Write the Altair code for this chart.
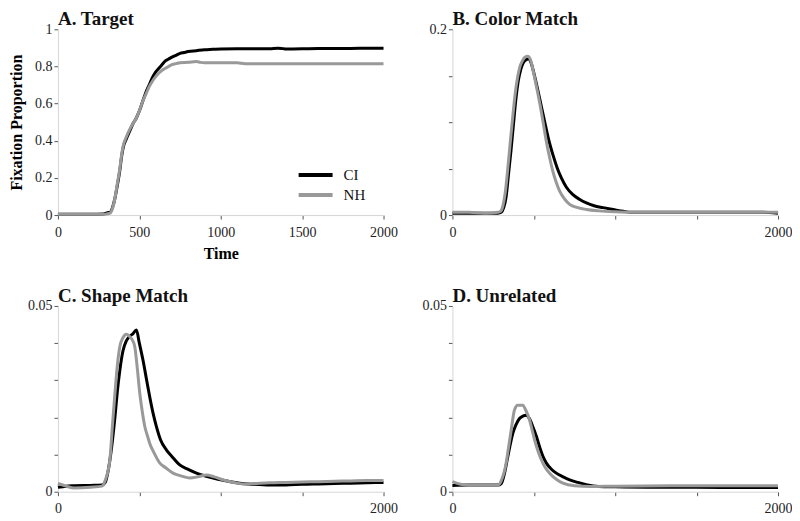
import altair as alt
import pandas as pd

# ---------------- data ----------------
groups = ["CI", "NH"]
x_ticks = [0, 500, 1000, 1500, 2000]

# A. Target
a_ci_t = [0, 100, 200, 280, 300, 320, 335, 350, 365, 380, 392, 400, 420, 440, 460, 480, 500, 520, 540, 560, 580, 600, 620, 640, 660, 680, 700, 725, 750, 775, 800, 850, 900, 950, 1000, 1100, 1200, 1300, 1350, 1380, 1400, 1500, 1600, 1700, 1800, 1900, 2000]
a_ci_v = [0.005, 0.005, 0.005, 0.006, 0.012, 0.015, 0.04, 0.09, 0.16, 0.24, 0.32, 0.36, 0.41, 0.45, 0.49, 0.52, 0.56, 0.61, 0.66, 0.70, 0.74, 0.77, 0.79, 0.81, 0.83, 0.84, 0.85, 0.86, 0.87, 0.875, 0.88, 0.885, 0.89, 0.892, 0.894, 0.895, 0.895, 0.895, 0.898, 0.896, 0.894, 0.895, 0.897, 0.897, 0.897, 0.898, 0.898]
a_nh_t = [0, 100, 200, 280, 300, 320, 335, 350, 365, 380, 392, 400, 420, 440, 460, 480, 500, 520, 540, 560, 580, 600, 620, 640, 660, 680, 700, 725, 750, 800, 850, 875, 900, 1000, 1100, 1150, 1200, 1300, 1400, 1500, 1600, 1700, 1800, 1900, 2000]
a_nh_v = [0.005, 0.005, 0.005, 0.005, 0.006, 0.01, 0.035, 0.09, 0.17, 0.25, 0.33, 0.37, 0.42, 0.46, 0.49, 0.52, 0.56, 0.61, 0.65, 0.69, 0.72, 0.745, 0.765, 0.78, 0.79, 0.80, 0.81, 0.815, 0.82, 0.822, 0.826, 0.822, 0.82, 0.82, 0.82, 0.815, 0.815, 0.815, 0.815, 0.815, 0.815, 0.815, 0.815, 0.815, 0.815]

# B. Color Match
b_ci_t = [0, 100, 200, 280, 300, 315, 330, 345, 360, 375, 390, 405, 420, 435, 450, 468, 485, 500, 520, 545, 566, 590, 617, 643, 669, 700, 740, 780, 823, 870, 925, 987, 1050, 1100, 1300, 1500, 1700, 1900, 2000]
b_ci_v = [0.002, 0.002, 0.002, 0.002, 0.003, 0.008, 0.02, 0.045, 0.07, 0.098, 0.125, 0.145, 0.157, 0.164, 0.167, 0.168, 0.163, 0.153, 0.138, 0.118, 0.101, 0.082, 0.065, 0.051, 0.040, 0.030, 0.022, 0.017, 0.013, 0.010, 0.008, 0.006, 0.004, 0.003, 0.003, 0.003, 0.003, 0.003, 0.002]
b_nh_t = [0, 100, 200, 280, 295, 310, 325, 340, 355, 370, 385, 400, 415, 430, 445, 463, 480, 500, 520, 540, 556, 576, 597, 617, 638, 658, 690, 720, 770, 823, 900, 1000, 1100, 1300, 1500, 1700, 1900, 2000]
b_nh_v = [0.003, 0.003, 0.002, 0.003, 0.004, 0.01, 0.025, 0.05, 0.078, 0.105, 0.13, 0.148, 0.16, 0.166, 0.17, 0.171, 0.167, 0.152, 0.135, 0.117, 0.101, 0.080, 0.062, 0.047, 0.035, 0.026, 0.017, 0.0115, 0.008, 0.006, 0.0045, 0.0035, 0.003, 0.003, 0.003, 0.003, 0.003, 0.003]

# C. Shape Match
c_ci_t = [0, 50, 100, 200, 270, 290, 310, 330, 350, 365, 380, 400, 420, 440, 460, 482, 500, 523, 545, 564, 585, 605, 630, 667, 700, 748, 800, 851, 900, 953, 1000, 1117, 1200, 1300, 1400, 1500, 1600, 1700, 1800, 1900, 2000]
c_ci_v = [0.0012, 0.0015, 0.0016, 0.0017, 0.0018, 0.0025, 0.006, 0.012, 0.020, 0.027, 0.0326, 0.038, 0.0406, 0.0418, 0.0425, 0.0435, 0.040, 0.0353, 0.030, 0.0255, 0.021, 0.0175, 0.014, 0.0112, 0.0095, 0.0072, 0.006, 0.005, 0.0043, 0.0037, 0.0032, 0.0023, 0.002, 0.0018, 0.0018, 0.002, 0.0021, 0.0022, 0.0023, 0.0024, 0.0025]
c_nh_t = [0, 50, 100, 200, 270, 290, 319, 335, 350, 365, 380, 400, 421, 440, 455, 472, 488, 503, 520, 534, 550, 564, 590, 626, 660, 707, 760, 810, 860, 912, 960, 1014, 1080, 1137, 1200, 1300, 1400, 1500, 1600, 1700, 1800, 1900, 2000]
c_nh_v = [0.0022, 0.0015, 0.001, 0.0012, 0.0015, 0.003, 0.0086, 0.018, 0.0264, 0.034, 0.039, 0.0415, 0.0424, 0.0418, 0.041, 0.039, 0.033, 0.0264, 0.021, 0.0175, 0.015, 0.013, 0.0105, 0.0077, 0.0065, 0.005, 0.0042, 0.0037, 0.004, 0.0045, 0.004, 0.0032, 0.0025, 0.0021, 0.0022, 0.0024, 0.0025, 0.0026, 0.0027, 0.0028, 0.0029, 0.003, 0.003]

# D. Unrelated
d_ci_t = [0, 100, 200, 280, 300, 320, 340, 371, 390, 412, 435, 453, 475, 494, 515, 535, 556, 577, 605, 638, 680, 720, 770, 822, 900, 1000, 1200, 1500, 1800, 2000]
d_ci_v = [0.0017, 0.0018, 0.0018, 0.0018, 0.0022, 0.005, 0.0094, 0.0157, 0.018, 0.0197, 0.0204, 0.0206, 0.0195, 0.0175, 0.015, 0.0121, 0.0095, 0.0077, 0.0062, 0.005, 0.004, 0.0032, 0.0025, 0.0019, 0.0014, 0.0013, 0.0012, 0.0012, 0.0011, 0.0011]
d_nh_t = [0, 50, 100, 200, 279, 300, 330, 345, 361, 381, 401, 432, 450, 474, 490, 505, 525, 546, 570, 597, 640, 679, 750, 850, 1000, 1500, 2000]
d_nh_v = [0.0027, 0.002, 0.0018, 0.0018, 0.0018, 0.003, 0.0077, 0.012, 0.0166, 0.022, 0.0233, 0.0233, 0.022, 0.0193, 0.0165, 0.0139, 0.011, 0.0086, 0.0065, 0.005, 0.0033, 0.0023, 0.0016, 0.0014, 0.0015, 0.0016, 0.0016]


def frame(ci_t, ci_v, nh_t, nh_v):
    return pd.concat([
        pd.DataFrame({"Time": ci_t, "Proportion": ci_v, "Group": groups[0]}),
        pd.DataFrame({"Time": nh_t, "Proportion": nh_v, "Group": groups[1]}),
    ], ignore_index=True)


SERIF = "Liberation Serif"
NB = "\u00a0"
W, H = 326, 186
color_scale = alt.Scale(domain=groups, range=["#000000", "#999999"])


def panel(df, title, ymax, yvals, ylab_expr, xlab_expr, first=False):
    x_axis = alt.Axis(values=x_ticks, labelExpr=xlab_expr, labelPadding=6, labelFlush=False)
    if first:
        y_axis = alt.Axis(values=yvals, labelExpr=ylab_expr, labelPadding=2, labelFlush=False,
                          titlePadding=10)
        x = alt.X("Time:Q", scale=alt.Scale(domain=[0, 2000], nice=False), axis=x_axis, title="Time")
        y = alt.Y("Proportion:Q", scale=alt.Scale(domain=[0, ymax], nice=False), axis=y_axis,
                  title="Fixation Proportion")
        color = alt.Color("Group:N", scale=color_scale, sort=groups,
                          legend=alt.Legend(title=None, orient="none", legendX=246, legendY=134,
                                            symbolType="M-1.7,0H1.7", symbolSize=400,
                                            symbolStrokeWidth=4, labelFont=SERIF, labelFontSize=15,
                                            labelColor="#111", labelOffset=16, rowPadding=0,
                                            padding=0))
    else:
        y_axis = alt.Axis(values=yvals, labelExpr=ylab_expr, labelPadding=2, labelFlush=False)
        x = alt.X("Time:Q", scale=alt.Scale(domain=[0, 2000], nice=False), axis=x_axis, title=None)
        y = alt.Y("Proportion:Q", scale=alt.Scale(domain=[0, ymax], nice=False), axis=y_axis, title=None)
        color = alt.Color("Group:N", scale=color_scale, sort=groups, legend=None)
    return alt.Chart(df).mark_line(strokeWidth=3, interpolate="monotone").encode(
        x=x, y=y, color=color, order=alt.Order("Time:Q")
    ).properties(width=W, height=H, title=alt.TitleParams(title))


full_x = "format(datum.value, 'd')"
ends_x = "datum.value == 0 ? '0" + NB * 3 + "' : (datum.value == 2000 ? '2000' : '')"

pA = panel(frame(a_ci_t, a_ci_v, a_nh_t, a_nh_v), "A. Target", 1,
           [0, 0.2, 0.4, 0.6, 0.8, 1],
           "datum.value == 0 ? '0" + NB * 2 + "' : (datum.value == 1 ? '1" + NB * 2 + "' : format(datum.value, '.1f'))",
           full_x, first=True)
pB = panel(frame(b_ci_t, b_ci_v, b_nh_t, b_nh_v), "B. Color Match", 0.2,
           [0, 0.05, 0.1, 0.15, 0.2],
           "datum.value == 0 ? '0" + NB * 2 + "' : (datum.value > 0.19 ? '0.2' : '')",
           ends_x)
pC = panel(frame(c_ci_t, c_ci_v, c_nh_t, c_nh_v), "C. Shape Match", 0.05,
           [0, 0.01, 0.02, 0.03, 0.04, 0.05],
           "datum.value == 0 ? '0" + NB * 2 + "' : (datum.value > 0.049 ? '0.05' : '')",
           ends_x)
pD = panel(frame(d_ci_t, d_ci_v, d_nh_t, d_nh_v), "D. Unrelated", 0.05,
           [0, 0.01, 0.02, 0.03, 0.04, 0.05],
           "datum.value == 0 ? '0" + NB * 2 + "' : (datum.value > 0.049 ? '0.05' : '')",
           ends_x)

chart = alt.concat(pA, pB, pC, pD, columns=2, spacing={"row": 91, "column": 69}, bounds="flush").resolve_scale(
    x="independent", y="independent", color="independent"
).resolve_legend(color="independent").properties(
    padding={"top": 2, "left": 0, "right": 0, "bottom": 0}, background="white"
).configure_view(
    strokeWidth=0
).configure_title(
    font=SERIF, fontSize=19, fontWeight="bold", color="#111", anchor="start", frame="group", offset=-7
).configure_axis(
    labelFont=SERIF, labelFontSize=14, labelColor="#222", titleFont=SERIF, titleFontSize=16,
    titleFontWeight="bold", titleColor="#000", domainColor="#d6d6d6", domainWidth=1,
    tickColor="#555", tickSize=4, tickWidth=1, grid=False, titlePadding=6
)

chart.save("out.html", embed_options={"renderer": "svg", "actions": False})
